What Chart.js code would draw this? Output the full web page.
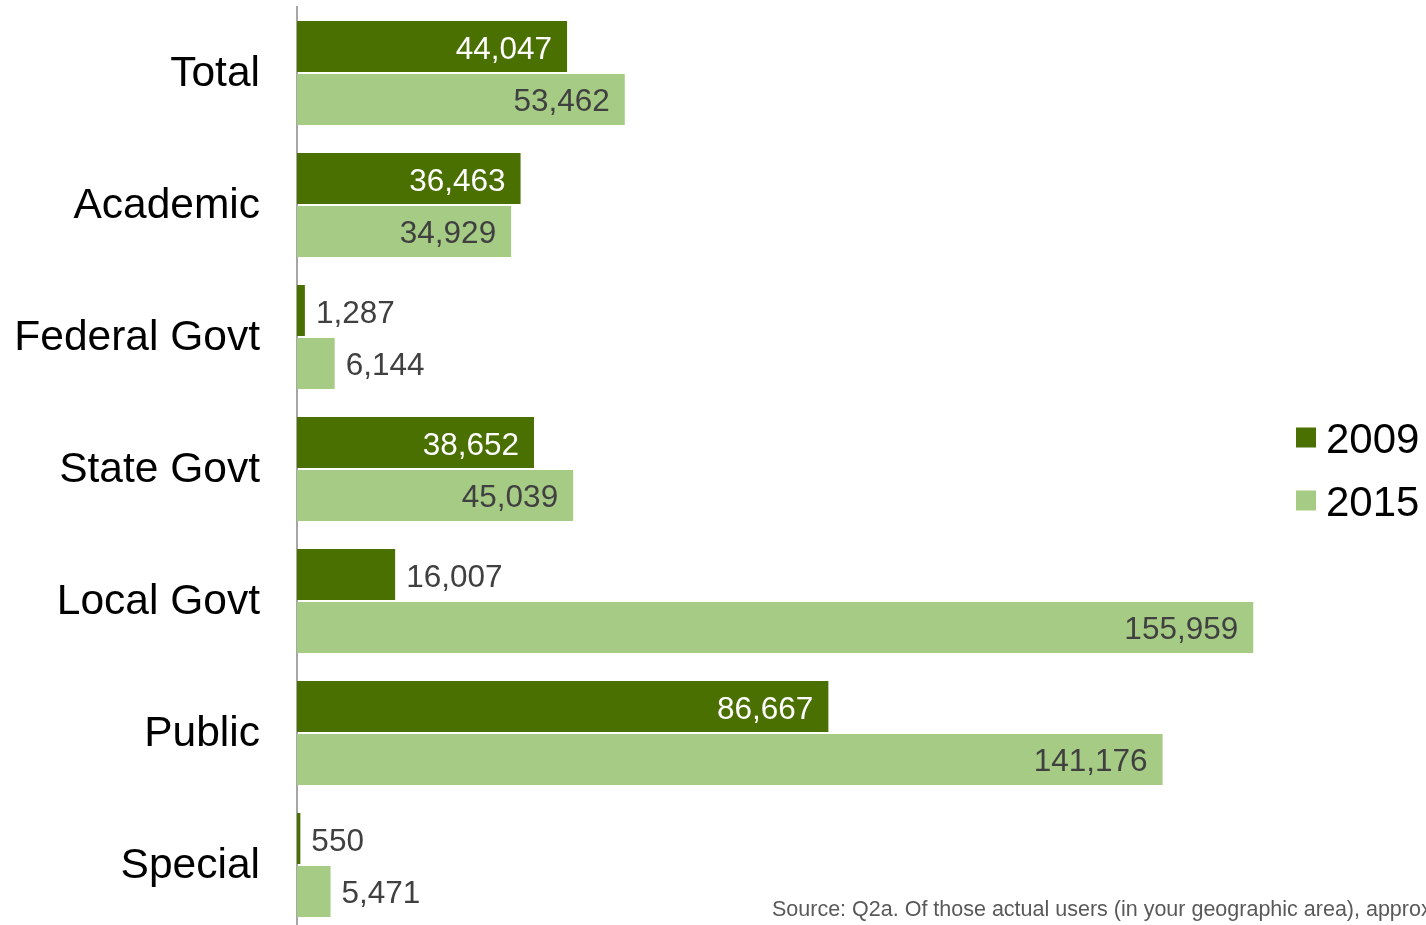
<!DOCTYPE html>
<html>
<head>
<meta charset="utf-8">
<script src="https://cdn.jsdelivr.net/npm/chart.js@4.4.1/dist/chart.umd.min.js"></script>
<style>
  html, body { margin: 0; padding: 0; background: #fff; overflow: hidden; }
  #wrap { width: 1426px; height: 925px; overflow: hidden; }
</style>
</head>
<body>
<div id="wrap"><canvas id="c" width="1426" height="940"></canvas></div>
<script>
const categories = ['Total', 'Academic', 'Federal Govt', 'State Govt', 'Local Govt', 'Public', 'Special'];
const seriesNames = ['2009', '2015'];
const values2009 = [44047, 36463, 1287, 38652, 16007, 86667, 550];
const values2015 = [53462, 34929, 6144, 45039, 155959, 141176, 5471];
const xMax = 160000;
const sourceNote = 'Source: Q2a. Of those actual users (in your geographic area), approximately how many are using the service?';

const FONT = '"Liberation Sans", Arial, Helvetica, sans-serif';
const DARK = '#4a7001';
const LIGHT = '#a6cb85';

// value labels: inside the bar end when they fit, otherwise just past it
const valueLabels = {
  id: 'valueLabels',
  afterDatasetsDraw(chart) {
    const ctx = chart.ctx;
    ctx.save();
    ctx.font = '31.5px ' + FONT;
    ctx.textBaseline = 'alphabetic';
    chart.data.datasets.forEach((ds, di) => {
      const meta = chart.getDatasetMeta(di);
      meta.data.forEach((bar, i) => {
        const v = ds.data[i];
        const txt = v.toLocaleString('en-US');
        const w = ctx.measureText(txt).width;
        const barW = bar.x - bar.base;
        const y = bar.y + 12;
        if (barW > w + 30) {
          ctx.textAlign = 'right';
          ctx.fillStyle = di === 0 ? '#ffffff' : '#404040';
          ctx.fillText(txt, bar.x - 15, y);
        } else {
          ctx.textAlign = 'left';
          ctx.fillStyle = '#404040';
          ctx.fillText(txt, bar.x + 11, y);
        }
      });
    });
    ctx.restore();
  }
};

// legend to the right of the plot, plus the source note
const sideLegend = {
  id: 'sideLegend',
  afterDraw(chart) {
    const ctx = chart.ctx;
    const area = chart.chartArea;
    const cy = (area.top + area.bottom) / 2;
    ctx.save();
    ctx.font = '42px ' + FONT;
    ctx.textAlign = 'left';
    ctx.textBaseline = 'alphabetic';
    chart.data.datasets.forEach((ds, i) => {
      const y = cy + (i - 0.5) * 63;
      const bx = area.right + 18;
      ctx.fillStyle = ds.backgroundColor;
      ctx.fillRect(bx, y - 10, 20, 20);
      ctx.fillStyle = '#000000';
      ctx.fillText(ds.label, bx + 30, y + 15);
    });
    ctx.font = '21.5px ' + FONT;
    ctx.fillStyle = '#595959';
    ctx.fillText(sourceNote, 772, 916);
    ctx.restore();
  }
};

new Chart(document.getElementById('c'), {
  type: 'bar',
  data: {
    labels: categories,
    datasets: [
      { label: seriesNames[0], data: values2009, backgroundColor: DARK },
      { label: seriesNames[1], data: values2015, backgroundColor: LIGHT }
    ]
  },
  options: {
    indexAxis: 'y',
    responsive: false,
    animation: false,
    devicePixelRatio: 1,
    categoryPercentage: 0.803,
    barPercentage: 0.962,
    layout: { padding: { top: 7, bottom: 9, left: 0, right: 148 } },
    scales: {
      x: { display: false, min: 0, max: xMax },
      y: {
        grid: { drawOnChartArea: false, drawTicks: false, color: 'transparent' },
        border: { display: true, color: '#a6a6a6', width: 2 },
        ticks: { padding: 37, labelOffset: 1, color: '#000000', font: { size: 42.5, family: FONT } },
        afterFit(scale) {
          scale.width = 297;
          scale.paddingTop = 0;
          scale.paddingBottom = 0;
        }
      }
    },
    plugins: {
      legend: { display: false },
      tooltip: { enabled: false }
    }
  },
  plugins: [valueLabels, sideLegend]
});
</script>
</body>
</html>
